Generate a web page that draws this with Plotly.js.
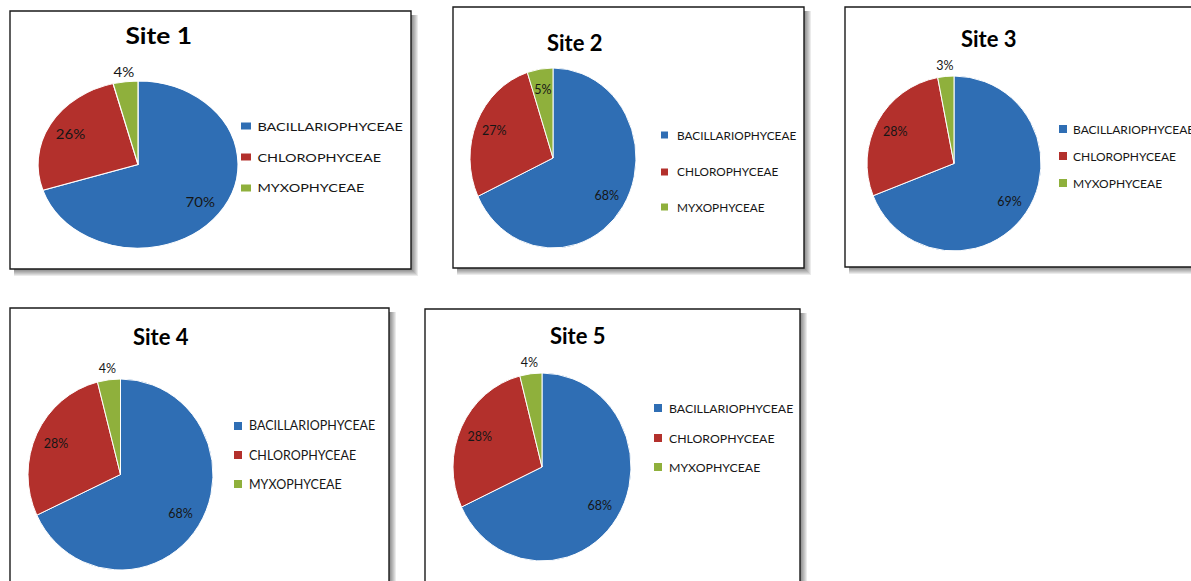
<!DOCTYPE html>
<html>
<head>
<meta charset="utf-8">
<script src="https://cdn.plot.ly/plotly-3.0.1.min.js"></script>
<style>
  html, body { margin: 0; padding: 0; background: #ffffff; overflow: hidden; }
  #chart { width: 1191px; height: 581px; }
</style>
</head>
<body>
<div id="chart"></div>
<script>
// Algal class composition (%) at each sampling site
const categories = ['BACILLARIOPHYCEAE', 'CHLOROPHYCEAE', 'MYXOPHYCEAE'];
const siteNames = ['Site 1', 'Site 2', 'Site 3', 'Site 4', 'Site 5'];
const site1 = [70, 26, 4];
const site2 = [68, 27, 5];
const site3 = [69, 28, 3];
const site4 = [68, 28, 4];
const site5 = [68, 28, 4];
const siteValues = [site1, site2, site3, site4, site5];
const sliceColors = ['#2F6EB4', '#B3302C', '#8FB03C'];

const W = 1191, H = 581;
const px = x => x / W;
const py = y => 1 - y / H;

// Panel geometry in page pixels: frame box, pie centre and radii, title and legend placement.
// textStretch widens the lettering of a panel horizontally.
const panels = [
  { box: [10, 11, 411, 269], cx: 138, cy: 164.5, rx: 100, ry: 83.5, title: [159, 36],
    leg: { x: 241, sw: 10, sh: 7, tx: 255, ys: [126, 157, 188] },
    legSize: 12, titleSize: 22, textStretch: 1.2, pos: ['inside', 'inside', 'outside'] },
  { box: [453, 7, 804, 268], cx: 553, cy: 158, rx: 83, ry: 90, title: [575, 42],
    leg: { x: 661, sw: 7, sh: 7, tx: 675, ys: [135, 172, 207] },
    legSize: 11.8, titleSize: 22, textStretch: 1, pos: ['inside', 'inside', 'inside'] },
  { box: [845, 7, 1200, 267], cx: 954, cy: 163.5, rx: 87, ry: 87.5, title: [989, 38],
    leg: { x: 1059, sw: 8, sh: 8, tx: 1071, ys: [129, 156, 183] },
    legSize: 12, titleSize: 22, textStretch: 1, pos: ['inside', 'inside', 'outside'] },
  { box: [10, 308, 389, 600], cx: 120.5, cy: 474.5, rx: 92.5, ry: 95.5, title: [161, 337],
    leg: { x: 234, sw: 8, sh: 8, tx: 247, ys: [426, 455, 484] },
    legSize: 12.5, titleSize: 22, textStretch: 1, pos: ['inside', 'inside', 'outside'] },
  { box: [425, 309, 800, 600], cx: 542, cy: 467, rx: 89, ry: 94, title: [578, 335],
    leg: { x: 654, sw: 8, sh: 8, tx: 667, ys: [408, 438, 467] },
    legSize: 12.3, titleSize: 22, textStretch: 1, pos: ['inside', 'inside', 'outside'] }
];

const fontFamily = 'Lato, "Open Sans", sans-serif';
const textColor = '#161616';
const insideRadius = 0.77;   // label distance from centre, as a fraction of the radius
const outsideRadius = 1.12;

const traces = [];
const shapes = [];
const annotations = [];
const annotInfo = [];  // panel index and anchor x for every annotation

panels.forEach((p, i) => {
  const [x0, y0, x1, y1] = p.box;

  // soft drop shadow to the lower right of each frame
  for (let k = 1; k <= 7; k++) {
    shapes.push({
      type: 'rect', xref: 'paper', yref: 'paper', layer: 'below',
      x0: px(x0 + 4), x1: px(x1 + k), y0: py(y1 + k), y1: py(y0 + 4),
      fillcolor: 'rgba(0,0,0,0.08)', line: { width: 0 }
    });
  }
  // white frame with a dark border
  shapes.push({
    type: 'rect', xref: 'paper', yref: 'paper', layer: 'below',
    x0: px(x0), x1: px(x1), y0: py(y1), y1: py(y0),
    fillcolor: '#ffffff', line: { color: '#1a1a1a', width: 1.4 }
  });

  traces.push({
    type: 'pie',
    values: siteValues[i],
    labels: categories,
    sort: false,
    direction: 'clockwise',
    rotation: 0,
    marker: { colors: sliceColors, line: { color: '#ffffff', width: 1 } },
    textinfo: 'percent',
    textposition: p.pos,
    insidetextorientation: 'horizontal',
    textfont: { family: fontFamily, size: 12.5, color: textColor },
    insidetextfont: { family: fontFamily, size: 12.5, color: textColor },
    outsidetextfont: { family: fontFamily, size: 12.5, color: textColor },
    hoverinfo: 'label+percent',
    showlegend: false,
    domain: {
      x: [px(p.cx - p.ry), px(p.cx + p.ry)],
      y: [py(p.cy + p.ry), py(p.cy - p.ry)]
    }
  });

  annotations.push({
    xref: 'paper', yref: 'paper', x: px(p.title[0]), y: py(p.title[1]),
    xanchor: 'center', yanchor: 'middle', showarrow: false,
    text: siteNames[i],
    font: { family: fontFamily, size: p.titleSize, weight: 700, color: '#000000' }
  });
  annotInfo.push({ panel: i, ax: p.title[0] });

  categories.forEach((c, j) => {
    const yc = p.leg.ys[j];
    shapes.push({
      type: 'rect', xref: 'paper', yref: 'paper', layer: 'above',
      x0: px(p.leg.x), x1: px(p.leg.x + p.leg.sw),
      y0: py(yc + p.leg.sh / 2), y1: py(yc - p.leg.sh / 2),
      fillcolor: sliceColors[j], line: { width: 0 }
    });
    annotations.push({
      xref: 'paper', yref: 'paper', x: px(p.leg.tx), y: py(yc),
      xanchor: 'left', yanchor: 'middle', showarrow: false,
      text: c,
      font: { family: fontFamily, size: p.legSize, color: textColor }
    });
    annotInfo.push({ panel: i, ax: p.leg.tx });
  });
});

const layout = {
  width: W, height: H,
  margin: { l: 0, r: 0, t: 0, b: 0 },
  paper_bgcolor: '#ffffff',
  showlegend: false,
  uniformtext: { mode: 'show', minsize: 12.5 },
  shapes: shapes,
  annotations: annotations
};

// Stretch each pie to its panel's ellipse, set the percentage labels along each
// slice's middle angle, and widen the lettering of panels that use textStretch.
function shapePies(gd) {
  const groups = gd.querySelectorAll('.pielayer > g.trace');
  groups.forEach((g, i) => {
    const p = panels[i];
    const cd = gd.calcdata[i];
    const cx = cd[0].cx, cy = cd[0].cy;
    const sx = p.rx / p.ry;
    const u = p.textStretch / sx;
    g.setAttribute('transform', `translate(${cx},0) scale(${sx},1) translate(${-cx},0)`);
    g.querySelectorAll('g.slice').forEach((slice, j) => {
      const t = slice.querySelector('g.slicetext');
      if (!t) return;
      t.removeAttribute('transform');
      const b = t.getBBox();
      const mx = b.x + b.width / 2, my = b.y + b.height / 2;
      let nx = mx, ny = my;
      const mid = cd[j] && cd[j].pxmid;
      if (mid) {
        const f = p.pos[j] === 'outside' ? outsideRadius : insideRadius;
        nx = cx + mid[0] * f;
        ny = cy + mid[1] * f;
      }
      t.setAttribute('transform',
        `translate(${nx},${ny}) scale(${u},1) translate(${-mx},${-my})`);
    });
  });

  gd.querySelectorAll('.infolayer g.annotation').forEach(a => {
    const k = +a.getAttribute('data-index');
    const info = annotInfo[k];
    if (!info) return;
    const ts = panels[info.panel].textStretch;
    if (ts === 1) return;
    a.setAttribute('transform', `translate(${info.ax},0) scale(${ts},1) translate(${-info.ax},0)`);
  });
}

const gd = document.getElementById('chart');
Plotly.newPlot(gd, traces, layout, { displayModeBar: false, staticPlot: true }).then(() => {
  shapePies(gd);
  gd.on('plotly_afterplot', () => shapePies(gd));
});
</script>
</body>
</html>
